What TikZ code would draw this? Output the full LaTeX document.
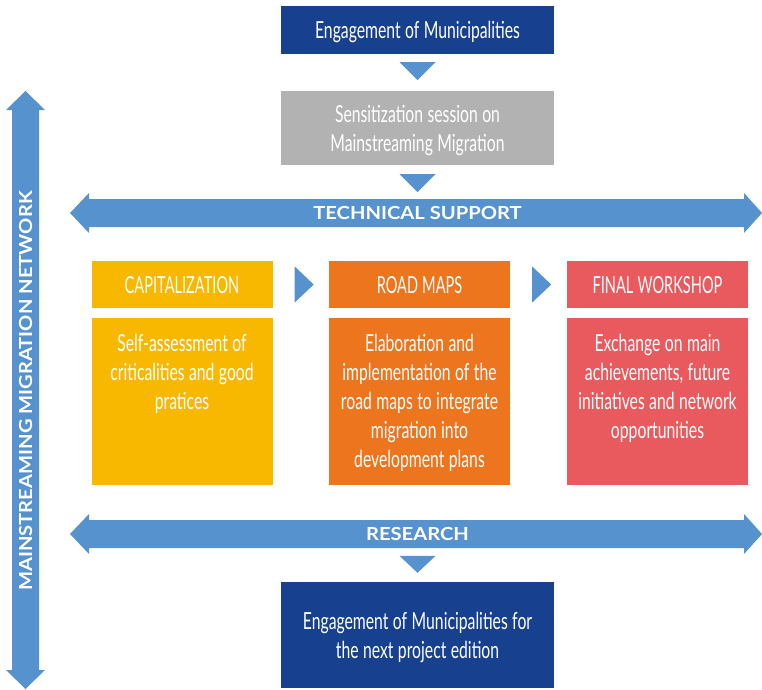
\documentclass[tikz,border=0pt]{standalone}
\usepackage{fontspec}
\setmainfont[FakeStretch=0.67,WordSpace=1.1]{Lato}
\newfontfamily\headfont[FakeStretch=0.62,WordSpace=1.1]{Lato}
\newfontfamily\labelfont[FakeStretch=1.12]{Lato}
\usetikzlibrary{calc}

\definecolor{munblue}{RGB}{23,64,143}
\definecolor{sessgray}{RGB}{178,178,178}
\definecolor{arrowblue}{RGB}{85,146,206}
\definecolor{capamber}{RGB}{249,184,0}
\definecolor{roadorange}{RGB}{237,117,30}
\definecolor{finalred}{RGB}{233,90,94}

\tikzset{
  plainbox/.style={rectangle, inner sep=0pt, text=white, align=center, text depth=0pt,
    font=\fontsize{23.5}{29}\selectfont},
  headbox/.style={plainbox, minimum width=181pt, minimum height=47pt,
    font=\headfont\fontsize{23.5}{29}\selectfont},
  bodybox/.style={plainbox, minimum width=181pt, minimum height=167pt},
  bodytext/.style={plainbox, anchor=north},
  pointer/.style={fill=arrowblue},
  bandtext/.style={text=white, inner sep=0pt, font=\labelfont\bfseries\fontsize{18}{20}\selectfont}
}

\begin{document}
\begin{tikzpicture}[x=1pt,y=-1pt]
\useasboundingbox (0,0) rectangle (762,689);

% top of the chain
\node [plainbox, fill=munblue, minimum width=273pt, minimum height=48pt] (eng) at (417.5,30) {Engagement of Municipalities};
\node [plainbox, fill=sessgray, minimum width=273pt, minimum height=74pt] (sens) at (417.5,128) {Sensitization session on\\Mainstreaming Migration};
\fill [pointer] ($(eng.south)+(-18,8)$) -- ($(eng.south)+(18,8)$) -- ($(eng.south)+(0,26)$) -- cycle;
\fill [pointer] ($(sens.south)+(-18,9)$) -- ($(sens.south)+(18,9)$) -- ($(sens.south)+(0,27)$) -- cycle;

% technical support band
\fill [pointer] (70,213) -- (89,193) -- (89,199) -- (744,199) -- (744,193) -- (762,213)
  -- (744,233) -- (744,227) -- (89,227) -- (89,233) -- cycle;
\node [bandtext] (tech) at (417.5,213) {TECHNICAL SUPPORT};

% the three phases
\node [headbox, fill=capamber] (cap) at (182,284.5) {CAPITALIZATION};
\node [headbox, fill=roadorange] (road) at (419.5,284.5) {ROAD MAPS};
\node [headbox, fill=finalred] (final) at (657.5,284.5) {FINAL WORKSHOP};
\node [bodybox, fill=capamber] (capbody) at (182,401.5) {};
\node [bodybox, fill=roadorange] (roadbody) at (419.5,401.5) {};
\node [bodybox, fill=finalred] (finalbody) at (657.5,401.5) {};
\node [bodytext] (captext) at ($(capbody.north)+(0,16)$) {Self-assessment of\\criticalities and good\\pratices};
\node [bodytext] (roadtext) at ($(roadbody.north)+(0,16)$) {Elaboration and\\implementation of the\\road maps to integrate\\migration into\\development plans};
\node [bodytext] (finaltext) at ($(finalbody.north)+(0,16)$) {Exchange on main\\achievements, future\\initiatives and network\\opportunities};
\fill [pointer] ($(cap.east)+(22,-18)$) -- ($(cap.east)+(41,0)$) -- ($(cap.east)+(22,18)$) -- cycle;
\fill [pointer] ($(road.east)+(22,-18)$) -- ($(road.east)+(41,0)$) -- ($(road.east)+(22,18)$) -- cycle;

% research band
\fill [pointer] (70,534) -- (89,514) -- (89,520) -- (744,520) -- (744,514) -- (762,534)
  -- (744,554) -- (744,548) -- (89,548) -- (89,554) -- cycle;
\node [bandtext] (research) at (417.5,534) {RESEARCH};

% end of the chain
\node [plainbox, fill=munblue, minimum width=273pt, minimum height=106pt] (nexted) at (417.5,635) {Engagement of Municipalities for\\the next project edition};
\fill [pointer] ($(nexted.north)+(-18,-26)$) -- ($(nexted.north)+(18,-26)$) -- ($(nexted.north)+(0,-9)$) -- cycle;

% network band on the left
\fill [pointer] (25.5,91) -- (45,110) -- (39,110) -- (39,670) -- (45,670) -- (25.5,689)
  -- (6,670) -- (12,670) -- (12,110) -- (6,110) -- cycle;
\node [bandtext, rotate=90] (network) at (25.5,391) {MAINSTREAMING MIGRATION NETWORK};
\end{tikzpicture}
\end{document}
